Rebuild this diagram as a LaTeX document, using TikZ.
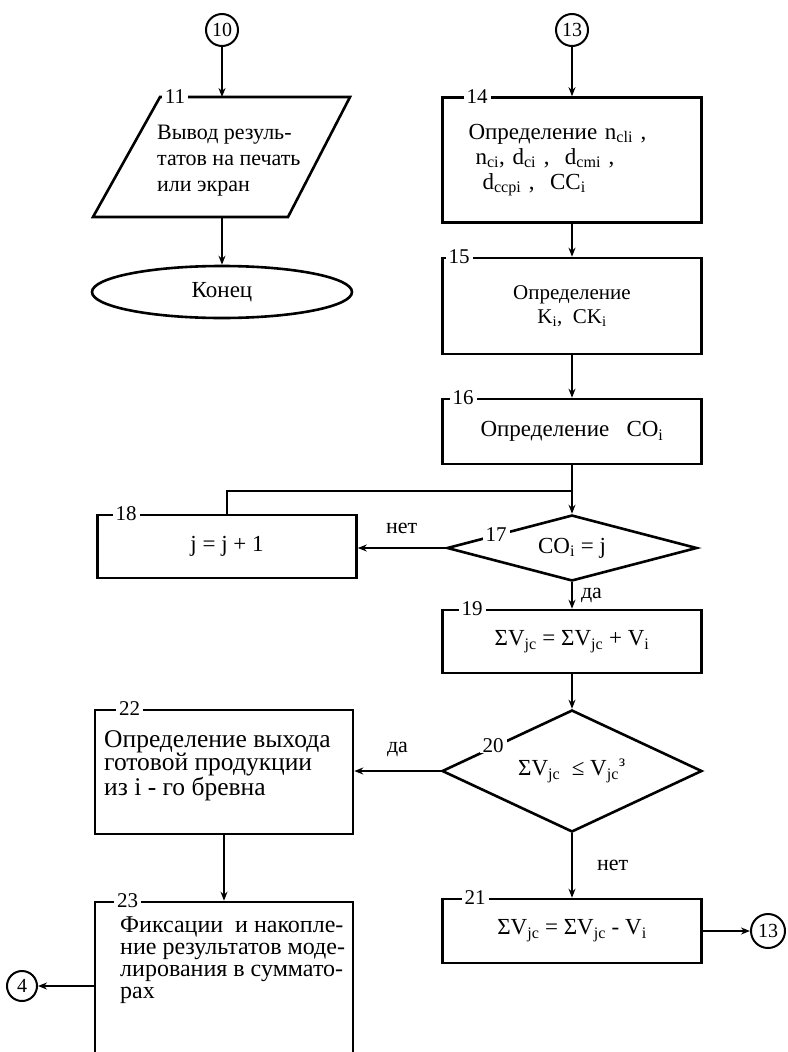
\documentclass[tikz,border=0pt]{standalone}
\usepackage{fontspec}
\setmainfont{Liberation Serif}
\usetikzlibrary{arrows.meta,positioning,shapes.geometric}
\tikzset{
  >={Stealth[length=9pt,width=7pt]},
  blk/.style={draw,line width=2.6pt,minimum width=259pt,inner sep=0pt,align=center,
    font=\fontsize{23}{25}\selectfont},
  ifblk/.style={diamond,draw,line width=2.6pt,inner sep=0pt,aspect=3,
    font=\fontsize{23}{25}\selectfont},
  conn/.style={circle,draw,line width=2pt,minimum size=32pt,inner sep=0pt,
    font=\fontsize{20}{20}\selectfont},
  numtag/.style={fill=white,inner xsep=3pt,inner ysep=0pt,font=\fontsize{21}{21}\selectfont},
  yesno/.style={inner sep=0pt,font=\fontsize{22}{22}\selectfont},
  txt/.style={align=left,inner sep=0pt,font=\fontsize{24}{22}\selectfont},
  flow/.style={->,line width=2pt},
}

\begin{document}
\begin{tikzpicture}[x=1pt,y=-1pt]
  \useasboundingbox (0,0) rectangle (787,1052);
  \clip (0,0) rectangle (787,1052);

  % output of results and end
  \node[conn] (c10) at (222,30) {10};
  \draw[line width=2.6pt] (160,97) -- (350,97) -- (288,217) -- (93,217) -- cycle;
  \coordinate (p11n) at (222,97);
  \coordinate (p11s) at (222,217);
  \node[txt,anchor=north west,font=\fontsize{22}{26}\selectfont] (p11) at (157,125)
    {Вывод резуль-\\татов на печать\\или экран};
  \node[numtag] (n11) at (175,97) {11};
  \node[ellipse,draw,line width=2.6pt,minimum width=260pt,minimum height=52pt,
    font=\fontsize{23}{25}\selectfont] (kon) at (222,292) {Конец};
  \draw[flow] (c10) -- (p11n);
  \draw[flow] (p11s) -- (kon);

  % main column
  \node[conn] (c13) at (572,30) {13};
  \node[blk,minimum height=125pt,text width=207pt,inner xsep=26pt,align=left] (b14) at (572,160)
    {Определение n\textsubscript{cli} ,\\
     \hspace*{7pt}n\textsubscript{ci}, d\textsubscript{ci} ,\ \ d\textsubscript{cmi} ,\\
     \hspace*{14pt}d\textsubscript{ccpi} ,\ \ CC\textsubscript{i}};
  \node[blk,minimum height=96pt,font=\fontsize{21}{24}\selectfont] (b15) at (572,306)
    {Определение\\K\textsubscript{i},\ \ CK\textsubscript{i}};
  \node[blk,minimum height=65pt] (b16) at (572,431.5) {Определение\ \ \ CO\textsubscript{i}};
  \coordinate (m17) at (572,491);
  \node[ifblk,minimum width=250pt,minimum height=66pt] (d17) at (572,548)
    {CO\textsubscript{i} = j};
  \node[blk,minimum height=63pt] (b18) at (227,546.5) {j = j + 1};
  \node[blk,minimum height=63pt] (b19) at (572,641.5)
    {ΣV\textsubscript{jc} = ΣV\textsubscript{jc} + V\textsubscript{i}};
  \node[ifblk,minimum width=260pt,minimum height=122pt] (d20) at (572,771)
    {ΣV\textsubscript{jc}\ \ ≤ V\textsubscript{jc}\textsuperscript{з}};
  \node[blk,minimum height=64pt] (b21) at (572,931)
    {ΣV\textsubscript{jc} = ΣV\textsubscript{jc} - V\textsubscript{i}};
  \node[conn,minimum size=34pt] (c13b) at (768,931) {13};

  % left column
  \node[blk,minimum width=258pt,minimum height=124pt] (b22) at (224,772) {};
  \node[txt,anchor=north west,font=\fontsize{25.5}{22}\selectfont] (t22) at (104,730)
    {Определение выхода\\готовой продукции\\из i - го бревна};
  \node[blk,minimum width=258pt,minimum height=168pt] (b23) at (224,986) {};
  \node[txt,anchor=north west] (t23) at (120,917)
    {Фиксации\ \ и накопле-\\ние результатов моде-\\лирования в суммато-\\рах};
  \node[conn,minimum size=30pt] (c4) at (22,986) {4};

  % block numbers on the top edges
  \node[numtag] (n14) at ([xshift=36pt]b14.north west) {14};
  \node[numtag] (n15) at ([xshift=18pt]b15.north west) {15};
  \node[numtag] (n16) at ([xshift=22pt]b16.north west) {16};
  \node[numtag] (n18) at ([xshift=30pt]b18.north west) {18};
  \node[numtag] (n19) at ([xshift=31pt]b19.north west) {19};
  \node[numtag] (n21) at ([xshift=34pt]b21.north west) {21};
  \node[numtag] (n22) at ([xshift=36pt]b22.north west) {22};
  \node[numtag] (n23) at ([xshift=34pt]b23.north west) {23};
  \path (d17.west) -- (d17.north) node[numtag,pos=0.4] (n17) {17};
  \path (d20.west) -- (d20.north) node[numtag,pos=0.4] (n20) {20};

  % connectors
  \draw[flow] (c13) -- (b14);
  \draw[flow] (b14) -- (b15);
  \draw[flow] (b15) -- (b16);
  \draw[flow] (b16) -- (d17);
  \draw[line width=2pt] (b18.north) |- (m17);
  \draw[flow] (d17.west) -- (d17.west -| b18.east) node[midway,above=13pt,yesno] {нет};
  \draw[flow] (d17) -- node[right=8pt,yesno] {да} (b19);
  \draw[flow] (b19) -- (d20);
  \draw[flow] (d20.west) -- (d20.west -| b22.east) node[midway,above=13pt,yesno] {да};
  \draw[flow] (d20) -- node[right=24pt,yesno] {нет} (b21);
  \draw[flow] (b21) -- (c13b);
  \draw[flow] (b22) -- (b23);
  \draw[flow] (b23) -- (c4);
\end{tikzpicture}
\end{document}
